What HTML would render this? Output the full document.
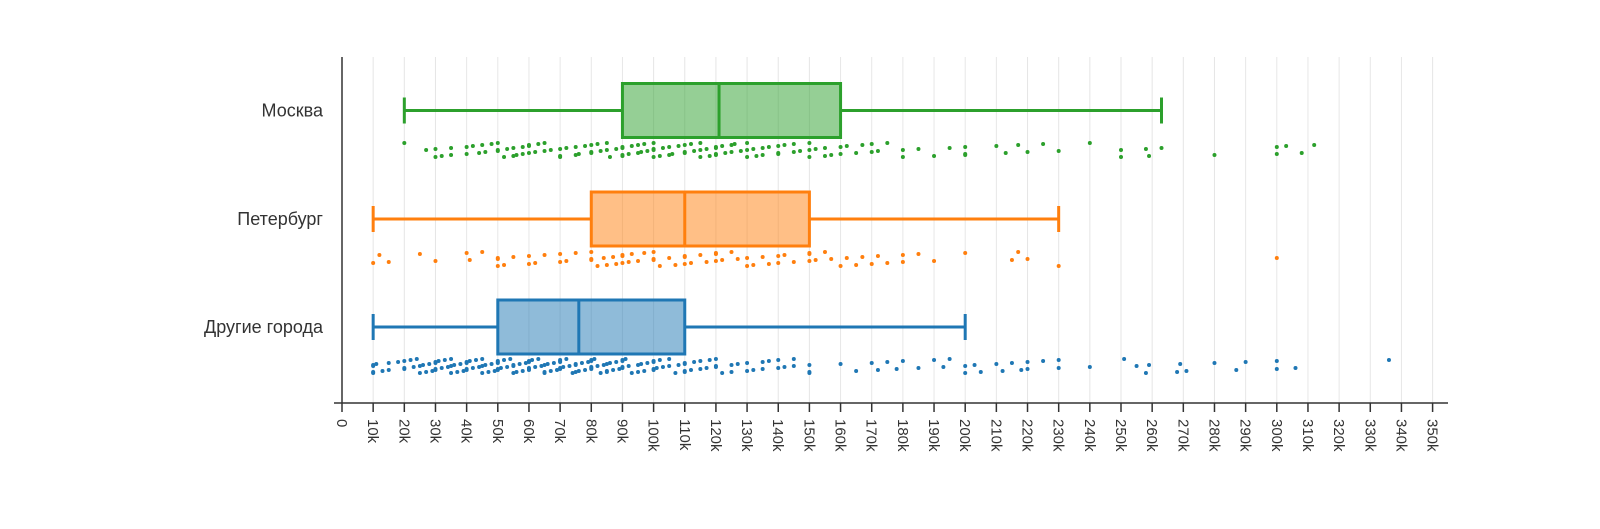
<!DOCTYPE html>
<html><head><meta charset="utf-8">
<style>
html,body{margin:0;padding:0;background:#fff;}
svg{display:block;font-family:"Liberation Sans","DejaVu Sans",sans-serif;}
</style></head>
<body>
<svg id="chart" width="1600" height="529" viewBox="0 0 1600 529" xmlns="http://www.w3.org/2000/svg">
<g id="grid"></g>
<g id="series"></g>
<g id="axes"></g>
</svg>
<script>
const categories = ["Москва", "Петербург", "Другие города"];
const colors = ["#2ca02c", "#ff7f0e", "#1f77b4"];
const fills = ["rgba(44,160,44,0.5)", "rgba(255,127,14,0.5)", "rgba(31,119,180,0.5)"];
const whiskerLow = [20, 10, 10];
const q1 = [90, 80, 50];
const median = [121, 110, 76];
const q3 = [160, 150, 110];
const whiskerHigh = [263, 230, 200];
const xTicks = [0,10,20,30,40,50,60,70,80,90,100,110,120,130,140,150,160,170,180,190,200,210,220,230,240,250,260,270,280,290,300,310,320,330,340,350];
const xTickLabels = xTicks.map(v => v === 0 ? "0" : v + "k");
const pointsMoscow = [20,27,30,30,32,35,35,40,40,42,44,45,46,48,50,50,50,52,53,55,55,56,58,58,60,60,60,62,63,65,65,67,70,70,70,72,75,75,76,78,80,80,80,82,83,85,85,86,88,90,90,90,90,92,93,95,95,96,97,98,100,100,100,100,102,103,105,105,106,108,110,110,110,112,113,115,115,115,117,118,120,120,120,120,122,123,125,125,126,128,130,130,130,132,133,135,135,137,140,140,140,142,145,145,147,150,150,150,152,155,155,157,160,160,162,165,167,170,170,172,175,180,180,185,190,195,200,200,200,210,213,217,220,225,230,240,250,250,258,259,263,280,300,300,303,308,312];
const pointsPiter = [10,12,15,25,30,40,41,45,50,50,50,52,55,60,60,62,65,70,70,72,75,80,80,80,82,84,85,87,88,90,90,90,92,93,95,97,100,100,100,102,105,107,110,110,110,112,115,117,120,120,120,122,125,127,130,130,132,135,137,140,140,142,145,150,150,150,152,155,157,160,162,165,167,170,172,175,180,180,185,190,200,215,217,220,230,300];
const pointsOther = [10,10,10,10,11,13,15,15,18,20,20,20,22,23,24,25,25,26,27,28,29,30,30,30,30,31,32,33,34,35,35,35,36,37,38,39,40,40,40,40,41,42,43,44,45,45,45,46,47,48,49,50,50,50,50,50,51,52,53,54,55,55,55,56,57,58,59,60,60,60,60,60,61,62,63,64,65,65,65,66,67,68,69,70,70,70,70,70,71,72,73,74,75,75,75,76,77,78,79,80,80,80,80,80,81,82,83,84,85,85,85,86,87,88,89,90,90,90,90,91,92,93,95,95,96,97,98,100,100,100,100,101,102,103,105,105,107,108,110,110,110,110,112,113,115,115,117,118,120,120,120,122,125,125,127,130,130,132,135,135,137,140,140,142,145,145,150,150,150,160,165,170,172,175,178,180,185,190,193,195,200,200,203,205,210,212,215,218,220,220,225,230,230,240,251,255,258,259,268,269,271,280,287,290,300,300,306,336];
const pointSets = [pointsMoscow, pointsPiter, pointsOther];

const NS = "http://www.w3.org/2000/svg";
const X0 = 342, PXK = 3.116, AXIS_Y = 403, TOP = 57;
const rowCenter = [110.5, 219, 327];
const pointRow = [150, 259, 366];
function xScale(v){ return X0 + v * PXK; }
function mk(tag, attrs, parent){ const e = document.createElementNS(NS, tag); for (const k in attrs) e.setAttribute(k, attrs[k]); parent.appendChild(e); return e; }
const grid = document.getElementById("grid"), series = document.getElementById("series"), axes = document.getElementById("axes");

xTicks.forEach((t, i) => {
  if (t > 0) {
    const g = mk("line", {x1: xScale(t), x2: xScale(t), y1: TOP, y2: AXIS_Y, stroke: "#e6e6e6", "stroke-width": 1}, grid);
    
    
  }
  const tk = mk("line", {x1: xScale(t), x2: xScale(t), y1: AXIS_Y, y2: AXIS_Y + 9, stroke: "#333", "stroke-width": 1.5}, axes);
  
  
  const lx = xScale(t) - 5, ly = AXIS_Y + 16;
  const lb = mk("text", {x: lx, y: ly, "font-size": 15, fill: "#333", transform: `rotate(90 ${lx} ${ly})`}, axes);
  lb.textContent = xTickLabels[i];
  
  
});
const ya = mk("line", {x1: X0, x2: X0, y1: TOP, y2: AXIS_Y, stroke: "#333", "stroke-width": 1.5}, axes);


const xa = mk("line", {x1: X0 - 8, x2: 1448, y1: AXIS_Y, y2: AXIS_Y, stroke: "#333", "stroke-width": 1.5}, axes);



categories.forEach((c, i) => {
  const cy = rowCenter[i], col = colors[i], hh = 27;
  const lab = mk("text", {x: 323, y: cy + 6, "font-size": 18, fill: "#333", "text-anchor": "end"}, axes);
  lab.textContent = c;
  
  
  const g = mk("g", {}, series);
  
  
  const w1 = mk("line", {x1: xScale(whiskerLow[i]), x2: xScale(q1[i]), y1: cy, y2: cy, stroke: col, "stroke-width": 3}, g);
  
  
  const w2 = mk("line", {x1: xScale(q3[i]), x2: xScale(whiskerHigh[i]), y1: cy, y2: cy, stroke: col, "stroke-width": 3}, g);
  
  
  [whiskerLow[i], whiskerHigh[i]].forEach(v => {
    const cap = mk("line", {x1: xScale(v), x2: xScale(v), y1: cy - 13, y2: cy + 13, stroke: col, "stroke-width": 3}, g);
    
    
  });
  const r = mk("rect", {x: xScale(q1[i]), y: cy - hh, width: xScale(q3[i]) - xScale(q1[i]), height: hh * 2, fill: fills[i], stroke: col, "stroke-width": 3}, g);
  
  
  const m = mk("line", {x1: xScale(median[i]), x2: xScale(median[i]), y1: cy - hh, y2: cy + hh, stroke: col, "stroke-width": 3}, g);
  
  
  const pg = mk("g", {fill: col}, series);
  
  
  pointSets[i].forEach((v, j) => {
    const jit = ((j * 37 + i * 11) % 15) - 7;
    const p = mk("circle", {cx: xScale(v), cy: pointRow[i] + jit, r: 2}, pg);
    
    
  });
});
</script>
</body></html>
